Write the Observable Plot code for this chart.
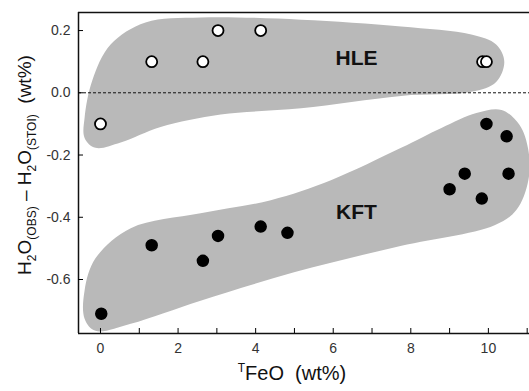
<!DOCTYPE html>
<html>
<head>
<meta charset="utf-8">
<script src="https://cdn.jsdelivr.net/npm/d3@7"></script>
<script src="https://cdn.jsdelivr.net/npm/@observablehq/plot@0.6"></script>
<style>
  body { margin: 0; background: #fff; }
  #chart svg { display: block; background: #fff; }
</style>
</head>
<body>
<div id="chart"></div>
<script>
// HLE samples (open circles)
const hleFeO = [0, 1.32, 2.64, 3.03, 4.13, 9.85, 9.95];
const hleDiff = [-0.10, 0.10, 0.10, 0.20, 0.20, 0.10, 0.10];
// KFT samples (filled circles)
const kftFeO = [0.02, 1.32, 2.64, 3.03, 4.13, 4.82, 9.0, 9.39, 9.83, 9.95, 10.47, 10.52];
const kftDiff = [-0.71, -0.49, -0.54, -0.46, -0.43, -0.45, -0.31, -0.26, -0.34, -0.10, -0.14, -0.26];

// Shaded group envelopes (outline vertices, data units)
const hleBlobX = [-0.41, -0.21, 0.26, 1.16, 2.58, 5.17, 7.75, 9.56, 10.2, 10.41, 10.2, 9.56, 7.75, 5.17, 3.1, 1.55, 0.52, -0.13, -0.41];
const hleBlobY = [-0.08, 0.04, 0.155, 0.226, 0.242, 0.235, 0.213, 0.187, 0.155, 0.10, 0.035, 0.003, -0.01, -0.05, -0.07, -0.11, -0.16, -0.177, -0.145];
const kftBlobX = [-0.41, -0.41, -0.13, 0.78, 2.58, 4.39, 5.94, 7.75, 8.79, 9.69, 10.34, 10.8, 11.03, 11.03, 10.72, 10.16, 7.57, 4.99, 2.58, 0.78, -0.13];
const kftBlobY = [-0.726, -0.635, -0.532, -0.435, -0.387, -0.345, -0.281, -0.177, -0.113, -0.065, -0.055, -0.103, -0.184, -0.281, -0.377, -0.426, -0.497, -0.577, -0.668, -0.742, -0.765];

const groupNames = ["HLE", "KFT"];
const groupLabelX = [6.6, 6.6];
const groupLabelY = [0.11, -0.385];

const xMajor = [0, 2, 4, 6, 8, 10];
const xMinor = [1, 3, 5, 7, 9, 11];
const yTicks = [-0.6, -0.4, -0.2, 0.0, 0.2];

const xDomain = [-0.567, 11.06];
const yDomain = [-0.7735, 0.258];

const hle = hleFeO.map((x, i) => ({x, y: hleDiff[i]}));
const kft = kftFeO.map((x, i) => ({x, y: kftDiff[i]}));
const hleBlob = hleBlobX.map((x, i) => ({x, y: hleBlobY[i]}));
const kftBlob = kftBlobX.map((x, i) => ({x, y: kftBlobY[i]}));
const labels = groupNames.map((t, i) => ({t, x: groupLabelX[i], y: groupLabelY[i]}));

const gray = "#b9b9b9";

const plot = Plot.plot({
  width: 529,
  height: 391,
  marginLeft: 78,
  marginRight: 0,
  marginTop: 12,
  marginBottom: 58,
  style: {fontFamily: "Liberation Sans, Arial, sans-serif", background: "#fff"},
  x: {domain: xDomain},
  y: {domain: yDomain},
  marks: [
    Plot.line(hleBlob, {x: "x", y: "y", curve: "catmull-rom-closed", fill: gray, stroke: "none"}),
    Plot.line(kftBlob, {x: "x", y: "y", curve: "catmull-rom-closed", fill: gray, stroke: "none"}),
    Plot.ruleY([0], {stroke: "#111", strokeWidth: 1, strokeDasharray: "3,2"}),
    Plot.ruleY([yDomain[1]], {stroke: "#111", strokeWidth: 1.5}),
    Plot.ruleY([yDomain[0]], {stroke: "#111", strokeWidth: 1.5}),
    Plot.ruleX([xDomain[0]], {stroke: "#111", strokeWidth: 1.5}),
    Plot.axisX({ticks: xMajor.concat(xMinor), tickSize: -5, tickPadding: 15,
      tickFormat: d => xMajor.includes(d) ? String(d) : "",
      fontSize: 14, fill: "#333", label: null}),
    Plot.axisY({ticks: yTicks, tickSize: -5, tickPadding: 13,
      tickFormat: d => d.toFixed(1), fontSize: 14, fill: "#333", label: null}),
    Plot.dot(kft, {x: "x", y: "y", r: 5.5, fill: "#000", stroke: "#000"}),
    Plot.dot(hle, {x: "x", y: "y", r: 5.5, fill: "#fff", stroke: "#000", strokeWidth: 1.8}),
    Plot.text(labels, {x: "x", y: "y", text: "t", fontSize: 21, fontWeight: "bold", fill: "#111"})
  ]
});

const svg = d3.select(plot);
// x axis label: TFeO (wt%)
const xl = svg.append("text")
  .attr("x", 292).attr("y", 380)
  .attr("text-anchor", "middle")
  .attr("font-family", "Liberation Sans, Arial, sans-serif")
  .attr("font-size", 20).attr("fill", "#111");
xl.append("tspan").attr("font-size", 12).attr("dy", -8).text("T");
xl.append("tspan").attr("dy", 8).text("FeO\u00a0\u00a0(wt%)");

// y axis label: H2O(OBS) − H2O(STOI) (wt%)
const yl = svg.append("text")
  .attr("transform", "translate(31,165) rotate(-90)")
  .attr("text-anchor", "middle")
  .attr("font-family", "Liberation Sans, Arial, sans-serif")
  .attr("font-size", 19).attr("fill", "#111");
yl.append("tspan").text("H");
yl.append("tspan").attr("font-size", 12).attr("dy", 5).text("2");
yl.append("tspan").attr("dy", -5).text("O");
yl.append("tspan").attr("font-size", 12).attr("dy", 5).text("(OBS)");
yl.append("tspan").attr("dy", -5).text(" \u2013 H");
yl.append("tspan").attr("font-size", 12).attr("dy", 5).text("2");
yl.append("tspan").attr("dy", -5).text("O");
yl.append("tspan").attr("font-size", 12).attr("dy", 5).text("(STOI)");
yl.append("tspan").attr("dy", -5).text("\u00a0\u00a0(wt%)");

document.getElementById("chart").appendChild(plot);
</script>
</body>
</html>
